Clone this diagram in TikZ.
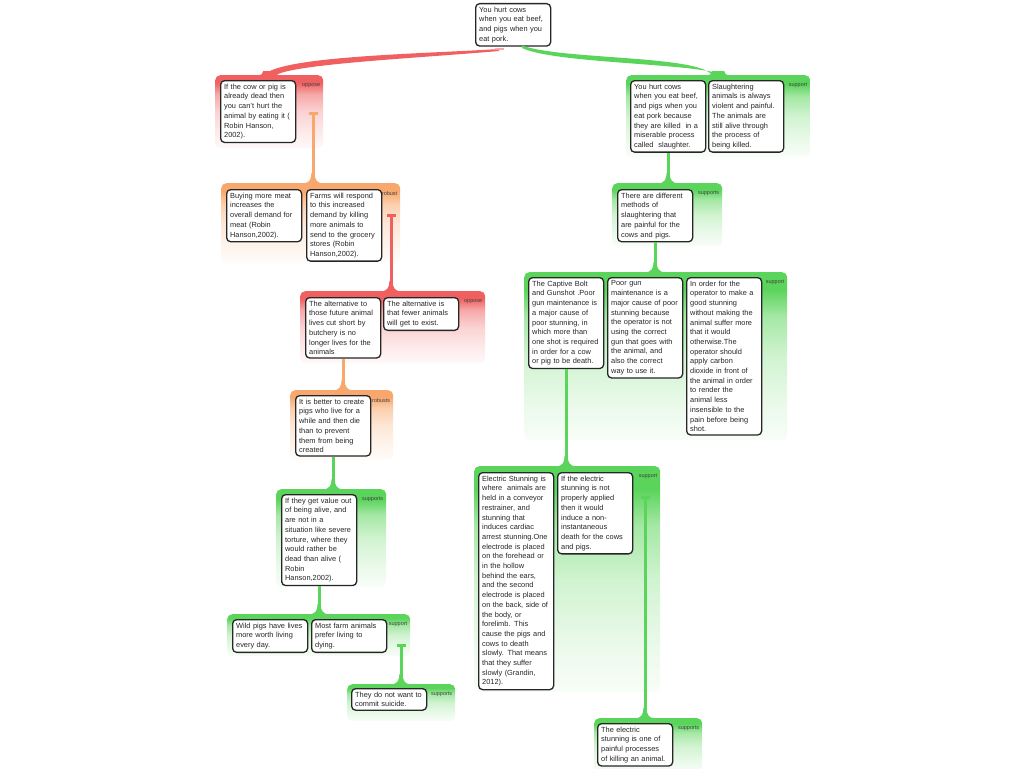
\documentclass[tikz,border=0pt]{standalone}
\usepackage{fontspec}
\setmainfont{Liberation Sans}
\usetikzlibrary{calc}
\definecolor{cgreen}{RGB}{90,212,90}
\definecolor{cred}{RGB}{240,96,96}
\definecolor{corange}{RGB}{248,168,108}
\pgfdeclareverticalshading{shgreen}{100bp}{color(0bp)=(white); color(25bp)=(cgreen!4); color(35bp)=(cgreen!12); color(50bp)=(cgreen!28); color(62bp)=(cgreen!55); color(70bp)=(cgreen); color(100bp)=(cgreen)}
\pgfdeclareverticalshading{shred}{100bp}{color(0bp)=(white); color(25bp)=(cred!4); color(35bp)=(cred!12); color(50bp)=(cred!28); color(62bp)=(cred!55); color(70bp)=(cred); color(100bp)=(cred)}
\pgfdeclareverticalshading{shorange}{100bp}{color(0bp)=(white); color(25bp)=(corange!4); color(35bp)=(corange!12); color(50bp)=(corange!28); color(62bp)=(corange!55); color(70bp)=(corange); color(100bp)=(corange)}
\tikzset{
 box/.style={draw=black!85, line width=1.3pt, fill=white, rounded corners=4pt, align=left, text width=68pt, inner xsep=3.5pt, inner ysep=3.2pt, anchor=north west, font=\fontsize{7.4}{9.7}\selectfont, text=black!85},
 cont/.style={shade, anchor=north west, rounded corners=5pt, inner sep=0pt, draw=none},
 lab/.style={anchor=north east, font=\fontsize{5.5}{6.5}\selectfont, text=black!75, inner sep=0pt},
 conn/.style={line width=3pt},
}
\newcommand\flareat[2]{\begin{scope}[shift={#1}]\fill[#2] (-1.6,-10) .. controls (-1.6,-3) and (-4,-0.5) .. (-9.5,0.6) -- (9.5,0.6) .. controls (4,-0.5) and (1.6,-3) .. (1.6,-10) -- cycle;\end{scope}}
\newcommand\lowflareat[2]{\begin{scope}[shift={#1}]\fill[#2] (-6,-4) .. controls (-6,-1) and (-8,-0.2) .. (-11,0.6) -- (11,0.6) .. controls (8,-0.2) and (6,-1) .. (6,-4) -- cycle;\end{scope}}
\newcommand\tickat[2]{\begin{scope}[shift={#1}]\fill[#2] (-4.5,-1) rectangle (4.5,1.5);\end{scope}}
\begin{document}
\begin{tikzpicture}[x=1pt,y=-1pt]
\useasboundingbox (0,0) rectangle (1024,768);
% containers
\node[cont, shading=shred,    minimum width=108pt, minimum height=73pt]  (C1)  at (215,75)  {};
\node[cont, shading=shgreen,  minimum width=184pt, minimum height=82pt]  (C2)  at (626,75)  {};
\node[cont, shading=shgreen,  minimum width=110pt, minimum height=63pt]  (C3)  at (612,183) {};
\node[cont, shading=shgreen,  minimum width=263pt, minimum height=168pt] (C4)  at (524,272) {};
\node[cont, shading=shgreen,  minimum width=186pt, minimum height=226pt] (C5)  at (474,466) {};
\node[cont, shading=shgreen,  minimum width=108pt, minimum height=55pt]  (C6)  at (594,718) {};
\node[cont, shading=shorange, minimum width=179pt, minimum height=80pt]  (C7)  at (221,183) {};
\node[cont, shading=shred,    minimum width=185pt, minimum height=72pt]  (C8)  at (300,291) {};
\node[cont, shading=shorange, minimum width=103pt, minimum height=70pt]  (C9)  at (290,390) {};
\node[cont, shading=shgreen,  minimum width=110pt, minimum height=98pt]  (C10) at (276,489) {};
\node[cont, shading=shgreen,  minimum width=183pt, minimum height=42pt]  (C11) at (227,614) {};
\node[cont, shading=shgreen,  minimum width=108pt, minimum height=37pt]  (C12) at (347,684) {};
% labels
\node[lab] (L1)  at ([xshift=-3pt,yshift=-8pt]C1.north east)  {oppose};
\node[lab] (L2)  at ([xshift=-3pt,yshift=-8pt]C2.north east)  {support};
\node[lab] (L3)  at ([xshift=-3pt,yshift=-8pt]C3.north east)  {supports};
\node[lab] (L4)  at ([xshift=-3pt,yshift=-8pt]C4.north east)  {support};
\node[lab] (L5)  at ([xshift=-3pt,yshift=-8pt]C5.north east)  {support};
\node[lab] (L6)  at ([xshift=-3pt,yshift=-8pt]C6.north east)  {supports};
\node[lab] (L7)  at ([xshift=-3pt,yshift=-8pt]C7.north east)  {robust};
\node[lab] (L8)  at ([xshift=-3pt,yshift=-8pt]C8.north east)  {oppose};
\node[lab] (L9)  at ([xshift=-3pt,yshift=-8pt]C9.north east)  {robusts};
\node[lab] (L10) at ([xshift=-3pt,yshift=-8pt]C10.north east) {supports};
\node[lab] (L11) at ([xshift=-3pt,yshift=-8pt]C11.north east) {support};
\node[lab] (L12) at ([xshift=-3pt,yshift=-8pt]C12.north east) {supports};
% boxes
\node[box] (top) at (475,3) {You hurt cows\\when you eat beef,\\and pigs when you\\eat pork.};
\node[box] (b1) at (220,80) {If the cow or pig is\\already dead then\\you can't hurt the\\animal by eating it (\\Robin Hanson,\\2002).};
\node[box] (a1) at (630,80) {You hurt cows\\when you eat beef,\\and pigs when you\\eat pork because\\they are killed~ in a\\miserable process\\called~ slaughter.};
\node[box] (a2) at (708,80) {Slaughtering\\animals is always\\violent and painful.\\The animals are\\still alive through\\the process of\\being killed.};
\node[box] (a3) at (617,189) {There are different\\methods of\\slaughtering that\\are painful for the\\cows and pigs.};
\node[box] (a4) at (528,277) {The Captive Bolt\\and Gunshot .Poor\\gun maintenance is\\a major cause of\\poor stunning, in\\which more than\\one shot is required\\in order for a cow\\or pig to be death.};
\node[box] (a5) at (607,277) {Poor gun\\maintenance is a\\major cause of poor\\stunning because\\the operator is not\\using the correct\\gun that goes with\\the animal, and\\also the correct\\way to use it.};
\node[box] (a6) at (686,277) {In order for the\\operator to make a\\good stunning\\without making the\\animal suffer more\\that it would\\otherwise.The\\operator should\\apply carbon\\dioxide in front of\\the animal in order\\to render the\\animal less\\insensible to the\\pain before being\\shot.};
\node[box] (a7) at (478,472) {Electric Stunning is\\where~ animals are\\held in a conveyor\\restrainer, and\\stunning that\\induces cardiac\\arrest stunning.One\\electrode is placed\\on the forehead or\\in the hollow\\behind the ears,\\and the second\\electrode is placed\\on the back, side of\\the body, or\\forelimb. This\\cause the pigs and\\cows to death\\slowly. That means\\that they suffer\\slowly (Grandin,\\2012).};
\node[box] (a8) at (557,472) {If the electric\\stunning is not\\properly applied\\then it would\\induce a non-\\instantaneous\\death for the cows\\and pigs.};
\node[box] (a9) at (597,723) {The electric\\stunning is one of\\painful processes\\of killing an animal.};
\node[box] (b2) at (226,189) {Buying more meat\\increases the\\overall demand for\\meat (Robin\\Hanson,2002).};
\node[box] (b3) at (306,189) {Farms will respond\\to this increased\\demand by killing\\more animals to\\send to the grocery\\stores (Robin\\Hanson,2002).};
\node[box] (b4) at (305,297) {The alternative to\\those future animal\\lives cut short by\\butchery is no\\longer lives for the\\animals};
\node[box] (b5) at (383,297) {The alternative is\\that fewer animals\\will get to exist.};
\node[box] (b6) at (295,395) {It is better to create\\pigs who live for a\\while and then die\\than to prevent\\them from being\\created};
\node[box] (b7) at (281,494) {If they get value out\\of being alive, and\\are not in a\\situation like severe\\torture, where they\\would rather be\\dead than alive (\\Robin\\Hanson,2002).};
\node[box] (b8) at (232,619) {Wild pigs have lives\\more worth living\\every day.};
\node[box] (b9) at (311,619) {Most farm animals\\prefer living to\\dying.};
\node[box] (b10) at (351,688) {They do not want to\\commit suicide.};
% tick coordinates
\coordinate (r0) at (499,49);
\coordinate (g0) at (522,45.5);
\coordinate (t1) at (313,113);
\coordinate (t2) at (391,215);
\coordinate (t3) at (401,645);
\coordinate (t4) at (645,497);
% connectors
\fill[cred] (r0) .. controls (420,54) and (280,56) .. ($(C1.north)+(-6,0.5)$) -- ($(C1.north)+(6,0.5)$) .. controls (292,64) and (420,58) .. ($(r0)+(0,2)$) -- cycle;
\lowflareat{(C1.north)}{cred}
\tickat{(r0)}{cred!55}
\fill[cgreen] (g0) .. controls (562,60) and (700,55) .. ($(C2.north)+(-6,0.5)$) -- ($(C2.north)+(6,0.5)$) .. controls (700,63) and (556,64) .. ($(g0)+(0,2.5)$) -- cycle;
\lowflareat{(C2.north)}{cgreen}
\draw[conn, cgreen] (a1.south) -- (a1.south |- C3.north);
\flareat{(a1.south |- C3.north)}{cgreen}
\draw[conn, cgreen] (a3.south) -- (a3.south |- C4.north);
\flareat{(a3.south |- C4.north)}{cgreen}
\draw[conn, cgreen] (a4.south) -- (a4.south |- C5.north);
\flareat{(a4.south |- C5.north)}{cgreen}
\draw[conn, cgreen] (t4) -- (t4 |- C6.north);
\tickat{(t4)}{cgreen}
\flareat{(t4 |- C6.north)}{cgreen}
\draw[conn, corange] (t1) -- (t1 |- C7.north);
\tickat{(t1)}{corange}
\flareat{(t1 |- C7.north)}{corange}
\draw[conn, cred] (t2) -- (t2 |- C8.north);
\tickat{(t2)}{cred}
\flareat{(t2 |- C8.north)}{cred}
\draw[conn, corange] (b4.south) -- (b4.south |- C9.north);
\flareat{(b4.south |- C9.north)}{corange}
\draw[conn, cgreen] (b6.south) -- (b6.south |- C10.north);
\flareat{(b6.south |- C10.north)}{cgreen}
\draw[conn, cgreen] (b7.south) -- (b7.south |- C11.north);
\flareat{(b7.south |- C11.north)}{cgreen}
\draw[conn, cgreen] (t3) -- (t3 |- C12.north);
\tickat{(t3)}{cgreen}
\flareat{(t3 |- C12.north)}{cgreen}
\end{tikzpicture}
\end{document}
